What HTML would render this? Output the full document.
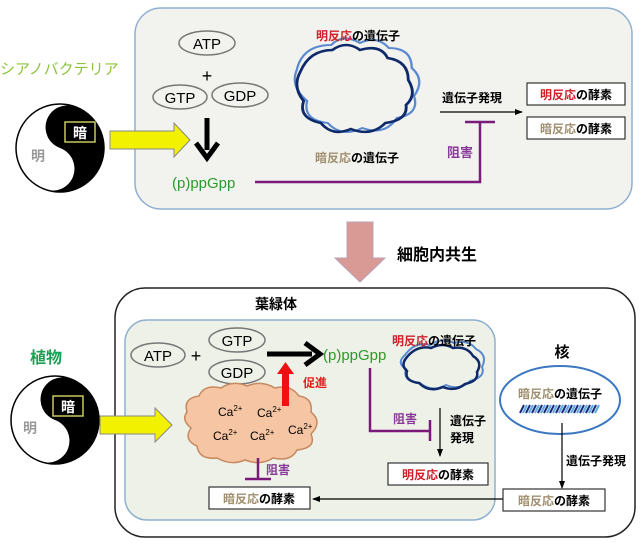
<!DOCTYPE html>
<html><head><meta charset="utf-8"><style>
html,body{margin:0;padding:0;background:#fff;}
svg{display:block;font-family:"Liberation Sans","Noto Sans CJK JP",sans-serif;}
.j{font-weight:bold;}
</style></head><body>
<svg width="640" height="543" viewBox="0 0 640 543" xmlns="http://www.w3.org/2000/svg">
<defs>
<marker id="ah" markerWidth="8" markerHeight="8" refX="7" refY="4" orient="auto" markerUnits="userSpaceOnUse"><path d="M0,1 L8,4 L0,7 z" fill="#000"/></marker>
</defs>
<!-- TOP -->
<rect x="135" y="8" width="497" height="201" rx="26" fill="#f2f3ef" stroke="#8fb0d0" stroke-width="1.5"/>
<text x="0" y="74" font-size="15" fill="#8cc43c">シアノバクテリア</text>
<g transform="translate(60,148)">
<circle r="44" fill="#fff" stroke="#000" stroke-width="1.5"/>
<path d="M0,-44 A44,44 0 0 1 0,44 A22,22 0 0 0 0,0 A22,22 0 0 1 0,-44 z" fill="#000" transform="rotate(20)"/>
<rect x="5" y="-26" width="30" height="20" fill="#000" stroke="#c8c860" stroke-width="1.5"/>
<text x="20" y="-10" font-size="14" fill="#fff" text-anchor="middle" class="j">暗</text>
<text x="-22" y="13" font-size="14" fill="#999" text-anchor="middle" class="j">明</text>
</g>
<path d="M110,131 L174,131 L174,123 L190,140 L174,157 L174,149 L110,149 z" fill="#f2f200" stroke="#888" stroke-width="1"/>
<ellipse cx="207" cy="43" rx="28" ry="12" fill="#f2f3ef" stroke="#777" stroke-width="1.5"/>
<text x="207" y="49" font-size="15" text-anchor="middle">ATP</text>
<text x="207" y="82" font-size="18" text-anchor="middle">+</text>
<ellipse cx="180" cy="97" rx="27" ry="12" fill="#f2f3ef" stroke="#777" stroke-width="1.5"/>
<text x="180" y="103" font-size="15" text-anchor="middle">GTP</text>
<ellipse cx="240" cy="95" rx="28" ry="12" fill="#f2f3ef" stroke="#777" stroke-width="1.5"/>
<text x="240" y="101" font-size="15" text-anchor="middle">GDP</text>
<line x1="207" y1="118" x2="207" y2="150" stroke="#000" stroke-width="5"/>
<path d="M196,143 L207,158 L218,143" fill="none" stroke="#000" stroke-width="5"/>
<text x="172" y="188" font-size="15" fill="#2a9a2a">(p)ppGpp</text>
<polyline points="255,182 480,182 480,122" fill="none" stroke="#7a1a7a" stroke-width="2.5"/>
<line x1="465" y1="122" x2="495" y2="122" stroke="#7a1a7a" stroke-width="2.5"/>
<text x="447" y="157" font-size="13" fill="#8a3a9a" class="j">阻害</text>
<g transform="translate(360,88) scale(1.15,1) translate(-360,-88)">
<path d="M305,70 q5,-25 30,-25 q10,-12 25,-2 q15,-8 25,5 q20,0 20,20 q12,12 2,28 q5,18 -15,22 q-10,18 -30,10 q-18,10 -30,-5 q-22,-3 -18,-22 q-15,-15 -9,-31z" fill="none" stroke="#5a8ad0" stroke-width="2"/>
<path d="M308,72 q8,-22 28,-22 q12,-10 24,0 q18,-6 24,8 q18,3 18,22 q8,15 -2,25 q2,15 -18,18 q-12,14 -30,6 q-16,8 -26,-6 q-20,-5 -15,-22 q-10,-14 -3,-29z" fill="none" stroke="#0f2a6a" stroke-width="2.5"/>
</g>
<text x="316" y="40" font-size="12" class="j"><tspan fill="#d0202a">明反応</tspan>の遺伝子</text>
<text x="315" y="162" font-size="12" class="j"><tspan fill="#a09070">暗反応</tspan>の遺伝子</text>
<text x="442" y="102" font-size="12" class="j">遺伝子発現</text>
<line x1="440" y1="112" x2="522" y2="112" stroke="#000" stroke-width="1.2" marker-end="url(#ah)"/>
<rect x="527" y="83" width="98" height="22" fill="#fff" stroke="#333" stroke-width="1.2"/>
<text x="576" y="99" font-size="12" text-anchor="middle" class="j"><tspan fill="#d0202a">明反応</tspan>の酵素</text>
<rect x="527" y="117" width="98" height="22" fill="#fff" stroke="#333" stroke-width="1.2"/>
<text x="576" y="133" font-size="12" text-anchor="middle" class="j"><tspan fill="#a09070">暗反応</tspan>の酵素</text>
<path d="M347,222 L373,222 L373,258 L385,258 L360,282 L335,258 L347,258 z" fill="#d99a96" stroke="#b8a0b8" stroke-width="1"/>
<text x="397" y="260" font-size="16" class="j">細胞内共生</text>
<!-- BOTTOM -->
<rect x="115" y="288" width="520" height="249" rx="30" fill="#fff" stroke="#222" stroke-width="1.5"/>
<text x="255" y="309" font-size="14" class="j">葉緑体</text>
<rect x="125" y="320" width="370" height="200" rx="22" fill="#eef1e7" stroke="#8fb0d0" stroke-width="1.5"/>
<text x="30" y="363" font-size="16" fill="#1aa053" class="j">植物</text>
<g transform="translate(55,420)">
<circle r="44" fill="#fff" stroke="#000" stroke-width="1.5"/>
<path d="M0,-44 A44,44 0 0 1 0,44 A22,22 0 0 0 0,0 A22,22 0 0 1 0,-44 z" fill="#000" transform="rotate(20)"/>
<rect x="-2" y="-24" width="30" height="20" fill="#000" stroke="#c8c860" stroke-width="1.5"/>
<text x="13" y="-8" font-size="14" fill="#fff" text-anchor="middle" class="j">暗</text>
<text x="-25" y="13" font-size="14" fill="#999" text-anchor="middle" class="j">明</text>
</g>
<path d="M100,416 L155,416 L155,408 L172,425 L155,442 L155,434 L100,434 z" fill="#f2f200" stroke="#888" stroke-width="1"/>
<ellipse cx="158" cy="355" rx="27" ry="12" fill="#eef1e7" stroke="#777" stroke-width="1.5"/>
<text x="158" y="361" font-size="15" text-anchor="middle">ATP</text>
<text x="196" y="362" font-size="18" text-anchor="middle">+</text>
<ellipse cx="237" cy="340" rx="28" ry="12" fill="#eef1e7" stroke="#777" stroke-width="1.5"/>
<text x="237" y="346" font-size="15" text-anchor="middle">GTP</text>
<ellipse cx="237" cy="372" rx="28" ry="12" fill="#eef1e7" stroke="#777" stroke-width="1.5"/>
<text x="237" y="378" font-size="15" text-anchor="middle">GDP</text>
<line x1="267" y1="354" x2="312" y2="354" stroke="#000" stroke-width="5"/>
<path d="M305,343 L320,354 L305,365" fill="none" stroke="#000" stroke-width="5"/>
<text x="323" y="360" font-size="15" fill="#2a9a2a">(p)ppGpp</text>
<path d="M187,412 q-4,-14 12,-16 q5,-12 22,-8 q12,-8 26,-2 q14,-6 28,2 q15,-4 24,8 q14,2 12,16 q12,10 0,22 q6,14 -14,16 q-6,12 -24,8 q-12,8 -28,2 q-14,6 -28,-2 q-18,2 -20,-12 q-14,-6 -6,-18 q-10,-8 -4,-16z" fill="#f6c6a4" stroke="#c7895f" stroke-width="1.5"/>
<rect x="282" y="372" width="7" height="34" fill="#f01010"/>
<path d="M277,374 L285.5,362 L294,374 z" fill="#f01010"/>
<text x="303" y="387" font-size="12" fill="#e02020" class="j">促進</text>
<g font-size="12"><text x="218" y="416">Ca<tspan font-size="8" dy="-5">2+</tspan></text>
<text x="257" y="417">Ca<tspan font-size="8" dy="-5">2+</tspan></text>
<text x="213" y="440">Ca<tspan font-size="8" dy="-5">2+</tspan></text>
<text x="250" y="440">Ca<tspan font-size="8" dy="-5">2+</tspan></text>
<text x="288" y="434">Ca<tspan font-size="8" dy="-5">2+</tspan></text></g>
<line x1="258" y1="458" x2="258" y2="479" stroke="#7a1a7a" stroke-width="2.5"/>
<line x1="245" y1="479" x2="271" y2="479" stroke="#7a1a7a" stroke-width="2.5"/>
<text x="266" y="474" font-size="12" fill="#8a3a9a" class="j">阻害</text>
<rect x="209" y="487" width="101" height="22" fill="#fff" stroke="#333" stroke-width="1.2"/>
<text x="259" y="503" font-size="12" text-anchor="middle" class="j"><tspan fill="#a09070">暗反応</tspan>の酵素</text>
<line x1="503" y1="499" x2="313" y2="499" stroke="#000" stroke-width="1.2" marker-end="url(#ah)"/>
<polyline points="370,368 370,431 430,431" fill="none" stroke="#7a1a7a" stroke-width="2.5"/>
<line x1="430" y1="420" x2="430" y2="441" stroke="#7a1a7a" stroke-width="2.5"/>
<text x="393" y="423" font-size="12" fill="#8a3a9a" class="j">阻害</text>
<path d="M405,355 q10,-14 25,-10 q12,-8 24,-2 q14,-4 22,6 q12,6 6,18 q4,10 -12,14 q-10,10 -24,4 q-14,8 -26,-2 q-18,-2 -14,-14 q-10,-6 -1,-14z" fill="none" stroke="#5a8ad0" stroke-width="2"/>
<path d="M407,357 q10,-12 24,-9 q12,-6 22,0 q14,-2 20,8 q10,6 4,16 q2,9 -12,12 q-10,8 -22,3 q-14,6 -24,-4 q-15,-2 -12,-12 q-7,-6 0,-14z" fill="none" stroke="#0f2a6a" stroke-width="2.5"/>
<text x="392" y="345" font-size="12" class="j"><tspan fill="#d0202a">明反応</tspan>の遺伝子</text>
<line x1="440" y1="408" x2="440" y2="456" stroke="#000" stroke-width="1.2" marker-end="url(#ah)"/>
<text x="450" y="425" font-size="12" class="j">遺伝子</text>
<text x="450" y="442" font-size="12" class="j">発現</text>
<rect x="388" y="463" width="100" height="22" fill="#fff" stroke="#333" stroke-width="1.2"/>
<text x="438" y="479" font-size="12" text-anchor="middle" class="j"><tspan fill="#d0202a">明反応</tspan>の酵素</text>
<text x="562" y="357" font-size="15" text-anchor="middle" class="j">核</text>
<ellipse cx="560" cy="400" rx="60" ry="34" fill="#fff" stroke="#3b78c0" stroke-width="2"/>
<text x="560" y="398" font-size="12" text-anchor="middle" class="j"><tspan fill="#a09070">暗反応</tspan>の遺伝子</text>
<g stroke-width="2">
<path d="M520,413 l4,-8 M526,413 l4,-8 M532,413 l4,-8 M538,413 l4,-8 M544,413 l4,-8 M550,413 l4,-8 M556,413 l4,-8 M562,413 l4,-8 M568,413 l4,-8 M574,413 l4,-8 M580,413 l4,-8 M586,413 l4,-8 M592,413 l4,-8" stroke="#1a2a7a"/>
<path d="M523,413 l4,-8 M529,413 l4,-8 M535,413 l4,-8 M541,413 l4,-8 M547,413 l4,-8 M553,413 l4,-8 M559,413 l4,-8 M565,413 l4,-8 M571,413 l4,-8 M577,413 l4,-8 M583,413 l4,-8 M589,413 l4,-8 M595,413 l4,-8" stroke="#5aaae0"/>
</g>
<line x1="562" y1="423" x2="562" y2="488" stroke="#000" stroke-width="1.2" marker-end="url(#ah)"/>
<text x="566" y="465" font-size="12" class="j">遺伝子発現</text>
<rect x="503" y="489" width="102" height="22" fill="#fff" stroke="#333" stroke-width="1.2"/>
<text x="554" y="505" font-size="12" text-anchor="middle" class="j"><tspan fill="#a09070">暗反応</tspan>の酵素</text>
</svg>
</body></html>
